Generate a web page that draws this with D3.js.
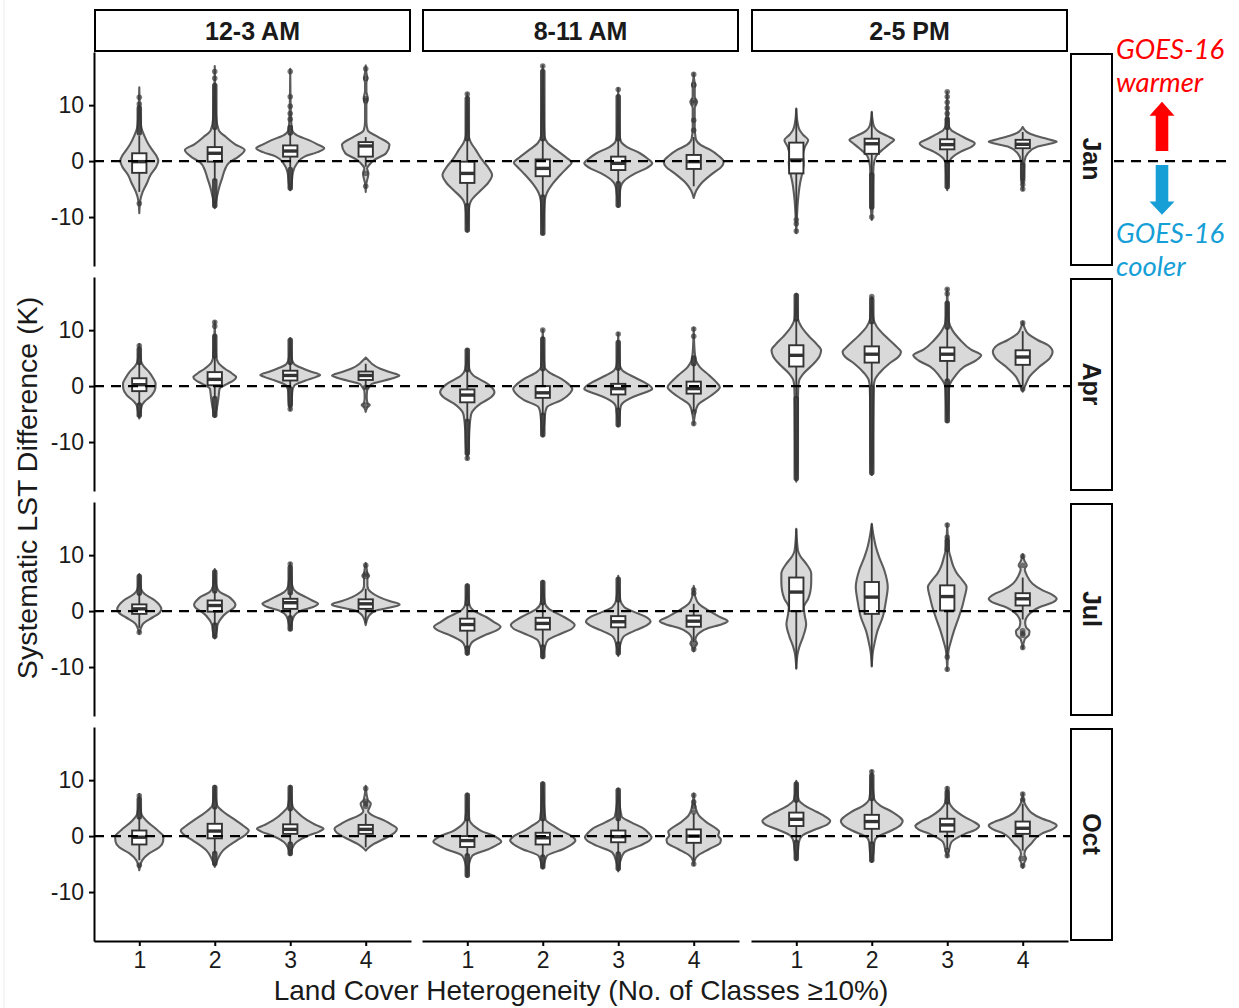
<!DOCTYPE html>
<html><head><meta charset="utf-8">
<script src="https://cdn.jsdelivr.net/npm/d3@7"></script>
<style>
html,body{margin:0;padding:0;background:#fff;}
svg{display:block;font-family:"Liberation Sans",Arial,Helvetica,sans-serif;}
</style></head>
<body>
<script>
// ---------------- DATA ----------------
const months = ["Jan", "Apr", "Jul", "Oct"];
const periods = ["12-3 AM", "8-11 AM", "2-5 PM"];
const classes = [1, 2, 3, 4];
const yTicks = [-10, 0, 10];
const yDomain = [-18.75, 19.5];

// violin profiles: [value (K), relative density 0..1]; period -> class -> knots
const janViolins = [
 [
  [[-9.3,0],[-7,0.03],[-5.5,0.1],[-4,0.22],[-2.5,0.33],[-1,0.5],[0,0.56],[1,0.5],[2,0.38],[3,0.27],[4.5,0.15],[6,0.06],[8,0.03],[13.2,0]],
  [[-8.4,0],[-6.5,0.06],[-4.5,0.14],[-3,0.22],[-1.5,0.3],[-0.3,0.42],[0.8,0.7],[2,0.88],[3,0.6],[4.3,0.33],[5.5,0.12],[8,0.04],[17,0]],
  [[-5.2,0],[-4,0.04],[-2,0.08],[-0.4,0.2],[0.8,0.42],[1.6,0.8],[2.3,1.0],[3,0.8],[3.75,0.55],[4.6,0.2],[5.5,0.06],[8,0.02],[16.5,0]],
  [[-5.5,0],[-4,0.02],[-2.2,0.08],[-1.3,0.04],[-0.7,0.1],[0.2,0.25],[1.4,0.6],[2.9,0.7],[4.3,0.37],[5.5,0.06],[7,0.02],[10,0.02],[11.2,0.06],[12.5,0.02],[14,0.02],[14.8,0.05],[15.8,0.02],[17.1,0]]
 ],
 [
  [[-12.6,0],[-10,0.03],[-8,0.06],[-7,0.12],[-5.2,0.4],[-4,0.6],[-2.5,0.73],[-1,0.6],[0.2,0.44],[2,0.25],[3.4,0.1],[4.5,0.04],[8,0.02],[12.1,0]],
  [[-13,0],[-10,0.03],[-7,0.06],[-5.7,0.12],[-4,0.3],[-2.2,0.56],[-1,0.75],[-0.3,0.85],[0.6,0.7],[2,0.4],[3.2,0.15],[4.5,0.05],[8,0.03],[17.1,0]],
  [[-8.2,0],[-6,0.04],[-4.5,0.08],[-3.7,0.15],[-2.2,0.5],[-1.2,0.85],[-0.4,1.0],[0.5,0.85],[1.4,0.64],[2.6,0.24],[3.5,0.08],[5,0.03],[13,0]],
  [[-6.6,0],[-5.2,0.08],[-4,0.22],[-2.2,0.56],[-1,0.82],[-0.1,0.88],[1,0.72],[2,0.49],[2.9,0.2],[4,0.06],[6,0.03],[9.5,0.03],[10.6,0.1],[11.5,0.03],[13,0.03],[13.6,0.05],[14.3,0.02],[15.7,0]]
 ],
 [
  [[-12.9,0],[-10,0.02],[-7,0.05],[-4,0.11],[-2,0.18],[-0.4,0.22],[1,0.2],[2.5,0.25],[3.75,0.35],[4.7,0.2],[5.5,0.1],[6.8,0.04],[9.4,0]],
  [[-10.5,0],[-8,0.03],[-3,0.04],[-1,0.05],[0.8,0.12],[2.3,0.37],[3.2,0.55],[3.75,0.66],[4.5,0.45],[5.2,0.22],[6.5,0.05],[8.8,0]],
  [[-5.2,0],[-3,0.03],[-0.4,0.05],[0.5,0.12],[1.7,0.4],[2.5,0.7],[3.15,0.81],[3.9,0.6],[4.6,0.38],[5.5,0.12],[6.5,0.04],[12.4,0]],
  [[-5.2,0],[-3,0.03],[0,0.05],[1.4,0.15],[2.6,0.44],[3.1,0.8],[3.45,1.0],[3.9,0.75],[4.6,0.34],[5.2,0.12],[6.1,0]]
 ]
];
const aprViolins = [
 [
  [[-5.8,0],[-4.5,0.04],[-3.4,0.08],[-2.8,0.15],[-1.6,0.37],[-0.5,0.47],[0.4,0.48],[1.5,0.4],[2.5,0.29],[3.6,0.12],[4.5,0.05],[7.5,0]],
  [[-5.5,0],[-4,0.06],[-2.5,0.1],[-1.5,0.12],[-0.5,0.14],[0.4,0.37],[1.0,0.55],[1.6,0.63],[2.3,0.5],[3.1,0.3],[4.2,0.1],[5.5,0.04],[11.6,0]],
  [[-4.3,0],[-3,0.04],[-1,0.06],[0.1,0.12],[1.0,0.45],[1.6,0.75],[2.0,0.88],[2.6,0.6],[3.1,0.39],[3.9,0.12],[5,0.04],[8.6,0]],
  [[-4.6,0],[-3.8,0.05],[-3.4,0.12],[-3.0,0.05],[-2,0.03],[-0.8,0.04],[-0.2,0.1],[0.4,0.18],[1.0,0.55],[1.5,0.85],[1.9,0.99],[2.5,0.7],[3.1,0.43],[4.0,0.18],[4.5,0.1],[5.1,0]]
 ],
 [
  [[-13.1,0],[-11,0.04],[-8,0.06],[-5.5,0.1],[-4.9,0.12],[-3.1,0.4],[-2,0.7],[-1.1,0.8],[0,0.68],[0.7,0.52],[1.9,0.18],[3,0.06],[6.6,0]],
  [[-9,0],[-7,0.04],[-4.5,0.08],[-3.7,0.13],[-2.5,0.55],[-1.3,0.8],[-0.5,0.87],[0.4,0.75],[1.3,0.55],[2.5,0.18],[3.5,0.05],[10.1,0]],
  [[-7.2,0],[-5,0.04],[-3.5,0.08],[-3.1,0.12],[-1.9,0.45],[-1,0.85],[-0.5,1.0],[0.2,0.9],[0.7,0.76],[1.9,0.37],[2.8,0.12],[4,0.04],[9.5,0]],
  [[-6.9,0],[-5,0.04],[-3.4,0.12],[-1.9,0.46],[-0.8,0.7],[-0.2,0.77],[0.8,0.65],[1.9,0.46],[3.4,0.18],[4.5,0.07],[6,0.03],[10.4,0]]
 ],
 [
  [[-17.1,0],[-14,0.03],[-8,0.04],[-2,0.05],[0,0.06],[1.1,0.09],[2.3,0.22],[4,0.51],[5.3,0.68],[6.4,0.73],[7.5,0.6],[8.8,0.39],[10.6,0.15],[12,0.05],[16.5,0]],
  [[-15.9,0],[-13,0.03],[-6,0.04],[0,0.06],[1.1,0.09],[2.3,0.22],[4,0.51],[5.2,0.78],[6.1,0.86],[7.2,0.7],[8.8,0.42],[10.6,0.15],[12,0.05],[16,0]],
  [[-6.4,0],[-4,0.03],[0,0.06],[0.5,0.09],[1.7,0.22],[3.45,0.49],[4.6,0.85],[5.5,1.0],[6.5,0.7],[8.2,0.39],[10,0.15],[11.5,0.05],[17.4,0]],
  [[-1.0,0],[-0.3,0.04],[0.2,0.08],[1.7,0.2],[3.45,0.49],[5,0.8],[6.1,0.88],[7.3,0.75],[8.2,0.45],[9.4,0.15],[10.5,0.05],[11.5,0]]
 ]
];
const julViolins = [
 [
  [[-4,0],[-3,0.05],[-2.2,0.12],[-1.1,0.4],[-0.3,0.6],[0.4,0.65],[1.2,0.58],[1.9,0.46],[3.1,0.15],[4,0.05],[6.6,0]],
  [[-4.9,0],[-3.5,0.06],[-2.5,0.08],[-1.6,0.15],[-0.2,0.37],[0.5,0.55],[1.2,0.61],[2,0.52],[2.5,0.43],[3.4,0.15],[4.5,0.05],[7.5,0]],
  [[-3.4,0],[-2,0.05],[-0.8,0.12],[0.1,0.33],[0.8,0.7],[1.3,0.82],[1.9,0.65],[2.5,0.46],[3.4,0.18],[4.5,0.06],[8.6,0]],
  [[-2.5,0],[-1.5,0.04],[-0.8,0.1],[0.1,0.3],[0.8,0.85],[1.2,1.0],[1.8,0.7],[2.5,0.4],[3.4,0.15],[4.5,0.05],[5.8,0.05],[6.3,0.1],[6.8,0.05],[7.5,0.03],[8.6,0]]
 ],
 [
  [[-7.8,0],[-6.5,0.06],[-5.5,0.15],[-4.3,0.52],[-3.5,0.85],[-2.8,0.98],[-2,0.8],[-1.1,0.57],[0.1,0.18],[1.2,0.06],[4.8,0]],
  [[-8.4,0],[-6.5,0.06],[-5.2,0.15],[-4,0.55],[-3.2,0.85],[-2.5,0.94],[-1.6,0.78],[-0.8,0.55],[0.4,0.18],[1.5,0.06],[5.4,0]],
  [[-8,0],[-6,0.06],[-4.6,0.15],[-3.4,0.52],[-2.5,0.85],[-1.9,0.95],[-1,0.8],[-0.5,0.61],[0.7,0.18],[2,0.06],[6.3,0]],
  [[-7.2,0],[-6.4,0.04],[-5.8,0.1],[-5.1,0.05],[-4.3,0.1],[-3.1,0.4],[-2.3,0.85],[-1.8,1.0],[-1,0.75],[-0.2,0.52],[1.3,0.15],[2.5,0.05],[4.5,0]]
 ],
 [
  [[-10.3,0],[-7.6,0.04],[-6.4,0.09],[-4.6,0.2],[-2.3,0.29],[-0.5,0.24],[0.7,0.22],[2.2,0.35],[3.7,0.42],[5.3,0.44],[6.7,0.44],[8.5,0.29],[9.8,0.12],[10.8,0.05],[14.7,0]],
  [[-9.9,0],[-7,0.04],[-5.8,0.08],[-3.5,0.17],[-1.1,0.32],[1.9,0.42],[4.3,0.47],[7.3,0.37],[9.6,0.22],[11.5,0.12],[13.2,0.06],[15.6,0]],
  [[-10.6,0],[-7,0.04],[-5.8,0.09],[-3.5,0.2],[-1.1,0.34],[1,0.45],[2.5,0.51],[4.3,0.57],[5.5,0.45],[6.7,0.29],[8,0.18],[9.6,0.1],[10.8,0.05],[15.6,0]],
  [[-6.7,0],[-5,0.06],[-4.3,0.18],[-3.6,0.2],[-2.9,0.1],[-2,0.07],[-0.8,0.15],[0.7,0.49],[1.6,0.9],[2.2,1.0],[3,0.85],[3.7,0.59],[4.9,0.29],[6.4,0.12],[7.5,0.06],[8.2,0.12],[9,0.05],[10.2,0]]
 ]
];
const octViolins = [
 [
  [[-6.1,0],[-5,0.04],[-4.3,0.09],[-3.1,0.29],[-2,0.59],[-1,0.7],[0,0.71],[0.6,0.62],[1.3,0.49],[2.8,0.2],[4,0.06],[7.5,0]],
  [[-5.5,0],[-4.5,0.06],[-3.7,0.12],[-2.6,0.24],[-0.8,0.64],[0.2,0.9],[1,1.0],[1.8,0.85],[2.8,0.62],[4.6,0.2],[5.5,0.07],[9,0]],
  [[-3.4,0],[-2.3,0.05],[-1.1,0.18],[0.1,0.54],[0.8,0.85],[1.3,0.98],[2,0.75],[2.8,0.51],[4.3,0.2],[5.3,0.07],[9,0]],
  [[-2.6,0],[-2,0.1],[-1.4,0.24],[-0.2,0.63],[0.6,0.85],[1.3,0.92],[2.1,0.75],[2.8,0.54],[3.7,0.2],[4.5,0.07],[5.2,0.12],[5.8,0.15],[6.5,0.06],[9,0]]
 ],
 [
  [[-7.3,0],[-5,0.05],[-3.5,0.15],[-2.3,0.64],[-1.5,0.9],[-1,1.0],[-0.3,0.88],[0.1,0.76],[0.8,0.45],[1.6,0.24],[3,0.06],[7.6,0]],
  [[-5.8,0],[-4.5,0.06],[-3.5,0.13],[-2.3,0.61],[-1.5,0.85],[-0.8,0.96],[0,0.85],[0.4,0.73],[1.1,0.5],[1.9,0.3],[3,0.08],[9.6,0]],
  [[-6.3,0],[-4.5,0.06],[-2.9,0.18],[-1.7,0.64],[-0.8,0.92],[-0.2,0.98],[0.5,0.9],[1.3,0.76],[2.5,0.37],[3.5,0.1],[8.5,0]],
  [[-5.2,0],[-4,0.05],[-3.5,0.12],[-2.3,0.46],[-1.2,0.78],[-0.6,0.8],[0.1,0.72],[0.8,0.75],[1.3,0.67],[2.5,0.37],[3.7,0.15],[5,0.06],[7.6,0]]
 ],
 [
  [[-4.3,0],[-2.5,0.05],[-1,0.08],[0.1,0.18],[1.3,0.61],[2.1,0.92],[2.7,1.0],[3.5,0.85],[4.3,0.61],[5.5,0.24],[6.5,0.07],[9.9,0]],
  [[-4.6,0],[-3,0.05],[-1,0.08],[-0.2,0.15],[1,0.58],[2,0.85],[2.7,0.91],[3.5,0.8],[4.3,0.61],[5.5,0.24],[6.7,0.07],[11.7,0]],
  [[-3.75,0],[-2.6,0.05],[-1.1,0.12],[0.4,0.52],[1.2,0.85],[1.8,0.94],[2.5,0.8],[3.4,0.52],[4.9,0.18],[6,0.06],[8.75,0]],
  [[-5.7,0],[-4.7,0.05],[-4,0.1],[-3.3,0.05],[-2.6,0.07],[-1.4,0.24],[0.4,0.55],[1.3,0.9],[1.9,1.0],[2.5,0.85],[3.1,0.58],[4.2,0.25],[4.9,0.15],[6,0.05],[7.7,0]]
 ]
];

// box stats: [q1, median, q3, lower whisker, upper whisker]
const janBoxes = [
 [[-2.1,-0.1,1.4,-5.5,4.5],[-0.1,1.4,2.5,-3.5,6],[0.8,1.8,2.8,-1.2,5],[0.8,2.7,3.4,-1,4.3]],
 [[-3.9,-2.2,-0.1,-8,4],[-2.7,-1.3,0.3,-6.4,4],[-1.6,-0.4,0.8,-4,4],[-1.4,-0.1,1.1,-4.5,4.3]],
 [[-2.2,0.2,3.3,-10,9.4],[1.3,3.1,4.0,-2.5,8.8],[2.1,2.95,3.9,-0.5,6],[2.3,3.0,3.8,-0.7,5.2]]
];
const aprBoxes = [
 [[-0.9,0.25,1.4,-3.4,4.2],[0.15,1.2,2.5,-2.2,5.4],[1.0,1.9,2.75,-0.5,4.2],[1.1,1.9,2.6,-0.5,4.0]],
 [[-2.9,-1.6,-0.6,-6.3,2.9],[-2.1,-1.2,0,-5.2,3.1],[-1.5,-0.45,0.4,-4.3,3.2],[-1.35,-0.45,0.8,-4.6,4]],
 [[3.5,5.5,7.3,-2.2,12],[4.2,5.7,7.1,0,11.5],[4.5,5.7,6.9,0.9,10.5],[3.8,5.2,6.4,0,9.8]]
];
const julBoxes = [
 [[-0.5,0.4,1.2,-3,3.2],[-0.1,1.0,1.9,-2.5,3.6],[0.4,1.5,2.2,-1.2,3.3],[0.4,1.3,2.1,-2.2,4]],
 [[-3.5,-2.4,-1.35,-6.6,1.3],[-3.3,-2.2,-1.2,-6.4,1.5],[-2.9,-1.9,-0.9,-5.9,2],[-2.8,-1.8,-0.8,-5.5,1.3]],
 [[0,3.4,6.0,-10.3,14.7],[-0.5,2.5,5.2,-9.9,15.6],[0.1,2.6,4.6,-8,11],[1.0,2.2,3.2,-1.5,6]]
];
const octBoxes = [
 [[-1.5,-0.2,1.0,-4.3,3.4],[-0.4,0.9,2.2,-3.1,5.2],[0.4,1.2,2.1,-1.4,4.9],[0.4,1.2,2.0,-2,4]],
 [[-1.95,-0.8,0,-3.5,3.1],[-1.5,-0.3,0.6,-3.75,3.1],[-1.1,-0.1,1.0,-3.2,3.1],[-1.2,0,1.2,-4.5,4]],
 [[1.8,3.0,4.2,-1.1,6.4],[1.3,2.6,3.8,-1.4,6.7],[0.8,2.0,3.1,-2.4,6.1],[0.4,1.4,2.6,-2.6,5.8]]
];

// dense runs of outliers: [from, to] (K)
const janRuns = [
 [[[5,9.5]],[[-8,-3.5],[6,13.5]],[[-4.8,-1.5],[5,6]],[]],
 [[[-12.3,-8],[4,11.2]],[[-12.9,-6.4],[4,16]],[[-7.9,-4],[4,11.5]],[]],
 [[],[[-8.2,-2.5]],[[-4.6,-0.5],[6,7.5]],[[-3,-0.7]]]
];
const aprRuns = [
 [[[4.2,6.6],[-5.2,-3.4]],[[5.4,8.9],[-5.2,-2.2]],[[4.2,8.2],[-3.4,-0.5]],[]],
 [[[2.9,6.4],[-12,-6.3]],[[3.1,8.4],[-8.7,-5.2]],[[3.2,7.8],[-6.9,-4.3]],[[4,5]]],
 [[[12,16.2],[-16.5,-2.2]],[[11.5,15.5],[-15.5,-0.2]],[[10.5,14.8],[-6.2,0.9]],[]]
];
const julRuns = [
 [[[3.2,6.2]],[[3.6,7],[-4.5,-2.5]],[[3.3,7.8],[-3.2,-1.2]],[]],
 [[[1.3,4.5],[-7.5,-6.6]],[[1.5,5.1],[-8.1,-6.4]],[[2,5.7],[-7.5,-5.9]],[]],
 [[],[],[[11,12.6]],[]]
];
const octRuns = [
 [[[3.4,6.6]],[[5.2,8.7],[-4.9,-3.1]],[[4.9,8.7],[-3.1,-1.4]],[]],
 [[[3.1,7.3],[-7,-3.5]],[[3.1,9.3],[-5.5,-3.75]],[[3.1,8.2],[-5.8,-3.2]],[]],
 [[[6.4,9.3],[-4,-1.1]],[[6.7,10.8],[-4.3,-1.4]],[[6.1,7.9]],[]]
];

// isolated outlier points (K)
const janPts = [
 [[11.4,10.2,-7.6],[16,14.8],[7.5,8.5,9.8,11.5,16],[-2.2,-4.5,10.8,11.2,14.8,16.5]],
 [[12],[17],[12.8],[5.5,7.3,10.4,10.8,13.6,15.5]],
 [[-10.5,-11.2,-12.5],[-10],[8.5,9.5,10.5,11.5,12.4],[-3.5,-4.2,-5]]
];
const aprPts = [
 [[7.2],[10.7,11.4],[-4.1],[-3.4,-0.2]],
 [[-12.9],[10],[9.3],[8.9,10.2,-4.6,-6.7]],
 [[],[16],[16.5,17.3],[-0.5,11.3]]
];
const julPts = [
 [[-3.8],[],[8.4],[6.2,6.6,8.2]],
 [[],[],[],[3.2,3.8,-5.8,-6.8]],
 [[],[],[13.2,15.4,-8.2,-10.4],[-3.5,-4,-4.3,-6.5,8.2,9.8]]
];
const octPts = [
 [[-5.2,7.2],[],[],[5.3,5.8,6.2,8.5]],
 [[],[],[],[4.3,5.3,6.1,7.3,-5]],
 [[],[11.5],[-2.6,-3.5,8.5],[6.5,7.5,-4,-5.3]]
];

const violins = [janViolins, aprViolins, julViolins, octViolins];
const boxes = [janBoxes, aprBoxes, julBoxes, octBoxes];
const runs = [janRuns, aprRuns, julRuns, octRuns];
const pts = [janPts, aprPts, julPts, octPts];

// ---------------- LAYOUT ----------------
const W = 1239, H = 1008;
const panelLeft = [94, 422, 751], panelW = 317;
const rowTop = [52, 277, 502, 727], panelH = 214;
const FONT = '"Liberation Sans", Arial, Helvetica, sans-serif';

const svg = d3.select("body").append("svg").attr("width", W).attr("height", H);
svg.append("rect").attr("width", W).attr("height", H).attr("fill", "#fff");
svg.append("line").attr("x1", 4).attr("x2", 4).attr("y1", 0).attr("y2", H).attr("stroke", "#ececec").attr("stroke-width", 1);

const yScales = rowTop.map(t => d3.scaleLinear().domain(yDomain).range([t + panelH, t]));
const xScales = panelLeft.map(l => d3.scalePoint().domain(classes).range([l, l + panelW]).padding(0.6));

const marks = svg.append("g");
months.forEach((m, r) => {
  const y = yScales[r];
  periods.forEach((p, c) => {
    const x = xScales[c];
    const hw = x.step() * 0.45;
    const boxHW = x.step() * 0.095;
    const g = marks.append("g");
    classes.forEach((k, i) => {
      const cx = x(k);
      const prof = violins[r][c][i];
      const area = d3.area()
        .y(d => y(d[0]))
        .x0(d => cx - d[1] * hw)
        .x1(d => cx + d[1] * hw)
        .curve(d3.curveMonotoneY);
      g.append("path").attr("d", area(prof))
        .attr("fill", "#d9d9d9").attr("stroke", "#5c5c5c").attr("stroke-width", 2.1)
        .attr("stroke-linejoin", "round");
      const [q1, med, q3, lo, hi] = boxes[r][c][i];
      g.append("line").attr("x1", cx).attr("x2", cx).attr("y1", y(lo)).attr("y2", y(hi))
        .attr("stroke", "#3a3a3a").attr("stroke-width", 1.8);
      runs[r][c][i].forEach(([a, b]) => {
        g.append("line").attr("x1", cx).attr("x2", cx).attr("y1", y(a)).attr("y2", y(b))
          .attr("stroke", "#333").attr("stroke-width", 5.5).attr("stroke-linecap", "round")
          .attr("stroke-opacity", 0.88);
      });
      pts[r][c][i].forEach(v => {
        g.append("circle").attr("cx", cx).attr("cy", y(v)).attr("r", 2.8)
          .attr("fill", "#333").attr("fill-opacity", 0.65);
      });
      g.append("rect").attr("x", cx - boxHW).attr("width", boxHW * 2)
        .attr("y", y(q3)).attr("height", y(q1) - y(q3))
        .attr("fill", "#fff").attr("stroke", "#333").attr("stroke-width", 1.9);
      g.append("line").attr("x1", cx - boxHW).attr("x2", cx + boxHW).attr("y1", y(med)).attr("y2", y(med))
        .attr("stroke", "#333").attr("stroke-width", 3.4);
    });
  });
});

// zero reference lines
months.forEach((m, r) => {
  const y = yScales[r];
  svg.append("line").attr("x1", panelLeft[0]).attr("x2", r === 0 ? 1232 : 1071)
    .attr("y1", y(0)).attr("y2", y(0))
    .attr("stroke", "#000").attr("stroke-width", 2.3).attr("stroke-dasharray", "10,7");
});

// axes
function styleAxis(g) {
  g.selectAll(".domain").attr("stroke", "#000").attr("stroke-width", 2);
  g.selectAll(".tick line").attr("stroke", "#000").attr("stroke-width", 2);
  g.selectAll(".tick text").attr("fill", "#1a1a1a").style("font-size", "23px").style("font-family", FONT);
}
months.forEach((m, r) => {
  const g = svg.append("g").attr("transform", `translate(${panelLeft[0]},0)`)
    .call(d3.axisLeft(yScales[r]).tickValues(yTicks).tickFormat(d => String(d))
      .tickSize(5).tickSizeOuter(0).tickPadding(5));
  styleAxis(g);
});
periods.forEach((p, c) => {
  const g = svg.append("g").attr("transform", `translate(0,${rowTop[3] + panelH})`)
    .call(d3.axisBottom(xScales[c]).tickSize(5).tickSizeOuter(0).tickPadding(6));
  styleAxis(g);
});

// strips
periods.forEach((p, c) => {
  svg.append("rect").attr("x", panelLeft[c] + 1).attr("y", 10).attr("width", panelW - 2).attr("height", 41)
    .attr("fill", "#fff").attr("stroke", "#000").attr("stroke-width", 2);
  svg.append("text").attr("x", panelLeft[c] + panelW / 2).attr("y", 31).attr("dy", "0.36em")
    .attr("text-anchor", "middle").attr("font-weight", "bold").attr("font-size", 25).attr("fill", "#1a1a1a")
    .text(p);
});
months.forEach((m, r) => {
  svg.append("rect").attr("x", 1071).attr("y", rowTop[r] + 2).attr("width", 41).attr("height", panelH - 3)
    .attr("fill", "#fff").attr("stroke", "#000").attr("stroke-width", 2);
  const cy = rowTop[r] + panelH / 2;
  svg.append("text").attr("transform", `translate(1091.5,${cy}) rotate(90)`).attr("dy", "0.36em")
    .attr("text-anchor", "middle").attr("font-weight", "bold").attr("font-size", 25).attr("fill", "#1a1a1a")
    .text(m);
});

// axis titles
svg.append("text").attr("x", 581).attr("y", 1000).attr("text-anchor", "middle")
  .attr("font-size", 28).attr("fill", "#1a1a1a").text("Land Cover Heterogeneity (No. of Classes ≥10%)");
svg.append("text").attr("transform", "translate(37,488) rotate(-90)").attr("text-anchor", "middle")
  .attr("font-size", 28.5).attr("fill", "#1a1a1a").text("Systematic LST Difference (K)");

// annotation (placed on the Jan row scale)
const ya = yScales[0];
const red = "#ff0000", blue = "#169fd6";
const ax = 1162;
const annot = svg.append("g").style("font-family", "Lato, 'Open Sans', sans-serif").style("font-style", "italic");
annot.append("text").attr("x", 1116).attr("y", ya(18.3)).attr("fill", red).attr("font-size", 27.5).text("GOES-16");
annot.append("text").attr("x", 1116).attr("y", ya(12.3)).attr("fill", red).attr("font-size", 27.5).text("warmer");
annot.append("text").attr("x", 1116).attr("y", ya(-14.7)).attr("fill", blue).attr("font-size", 27.5).text("GOES-16");
annot.append("text").attr("x", 1116).attr("y", ya(-20.5)).attr("fill", blue).attr("font-size", 27.5).text("cooler");
function arrowPath(tipV, baseV, headV) {
  const t = ya(tipV), b = ya(baseV), h = ya(headV);
  return `M${ax},${t} L${ax + 12.5},${h} L${ax + 6.3},${h} L${ax + 6.3},${b} L${ax - 6.3},${b} L${ax - 6.3},${h} L${ax - 12.5},${h} Z`;
}
svg.append("path").attr("d", arrowPath(10.6, 1.8, 8.1)).attr("fill", red);
svg.append("path").attr("d", arrowPath(-9.6, -0.7, -7.2)).attr("fill", blue);
</script>
</body></html>
